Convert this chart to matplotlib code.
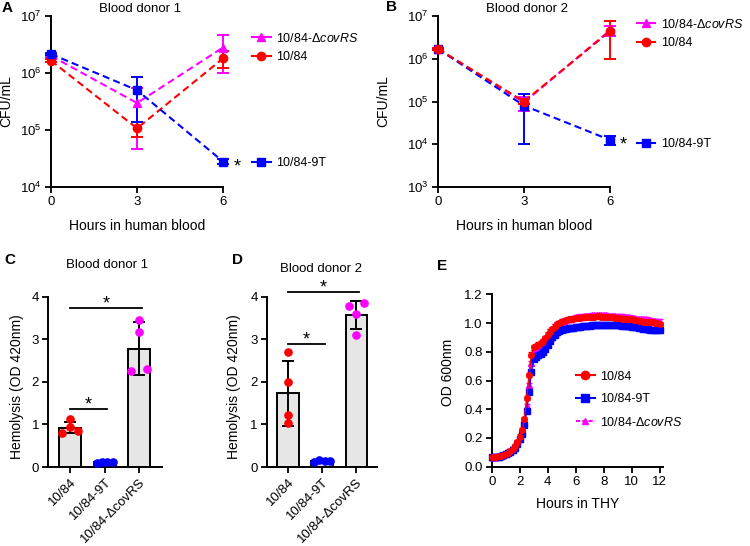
import numpy as np
import matplotlib
matplotlib.use('Agg')
import matplotlib.pyplot as plt
from matplotlib.lines import Line2D
from matplotlib.ticker import NullLocator, FormatStrFormatter

plt.rcParams['font.family'] = ['Liberation Sans', 'DejaVu Sans']
plt.rcParams['mathtext.fontset'] = 'custom'
plt.rcParams['mathtext.rm'] = 'Liberation Sans'
plt.rcParams['mathtext.it'] = 'Liberation Sans:italic'
plt.rcParams['mathtext.default'] = 'regular'
plt.rcParams['axes.linewidth'] = 1.4

RED = '#ff0000'
BLUE = '#0000ff'
MAG = '#ff00ff'

# ---------------- Data: panels A / B (CFU/mL, mean and SD) ----------------
hours_blood = [0, 3, 6]
A_covrs = [2.0e6, 2.97e5, 2.8e6]
A_covrs_sd = [1.0e5, 2.5e5, 1.8e6]
A_wt = [1.65e6, 1.07e5, 1.8e6]
A_wt_sd = [1.0e5, 3.1e4, 6.0e5]
A_9t = [2.15e6, 5.0e5, 2.8e4]
A_9t_sd = [1.0e5, 3.6e5, 3.0e3]

B_covrs = [1.7e6, 9.5e4, 4.65e6]
B_covrs_sd = [1.0e5, 3.5e4, 1.25e6]
B_wt = [1.7e6, 1.0e5, 4.4e6]
B_wt_sd = [1.0e5, 1.2e4, 3.4e6]
B_9t = [1.7e6, 8.0e4, 1.26e4]
B_9t_sd = [1.0e5, 7.0e4, 3.2e3]

# ---------------- Data: panels C / D (hemolysis) ----------------
strains = ['10/84', '10/84-9T', '10/84-ΔcovRS']
C_means = [0.92, 0.12, 2.78]
C_sd = [0.13, 0.01, 0.62]
C_points = [[1.12, 0.95, 0.79, 0.84], [0.10, 0.12, 0.11, 0.12], [3.46, 3.17, 2.25, 2.30]]
D_means = [1.73, 0.13, 3.57]
D_sd = [0.76, 0.03, 0.335]
D_points = [[2.70, 2.00, 1.23, 1.04], [0.11, 0.17, 0.13, 0.15], [3.77, 3.86, 3.59, 3.11]]
C_sig = [(0, 2, 3.74), (0, 1, 1.36)]
D_sig = [(0, 2, 4.10), (0, 1, 2.89)]

# ---------------- Data: panel E (growth in THY, OD600 every 10 min) ----------------
hours_thy = np.arange(73) / 6.0
E_wt = [0.065, 0.066, 0.068, 0.071, 0.075, 0.081,
        0.089, 0.098, 0.109, 0.122, 0.142, 0.170,
        0.210, 0.255, 0.330, 0.480, 0.640, 0.780,
        0.830, 0.840, 0.850, 0.860, 0.875, 0.895,
        0.920, 0.940, 0.960, 0.975, 0.990, 1.000,
        1.010, 1.015, 1.020, 1.025, 1.030, 1.030,
        1.035, 1.035, 1.035, 1.040, 1.040, 1.040,
        1.045, 1.045, 1.045, 1.050, 1.050, 1.045,
        1.045, 1.045, 1.040, 1.040, 1.040, 1.035,
        1.035, 1.035, 1.030, 1.030, 1.030, 1.025,
        1.025, 1.020, 1.020, 1.015, 1.015, 1.010,
        1.010, 1.010, 1.005, 1.005, 1.000, 1.000,
        0.995]
E_9t = [0.065, 0.066, 0.067, 0.070, 0.074, 0.079,
        0.086, 0.094, 0.104, 0.116, 0.133, 0.158,
        0.190, 0.230, 0.290, 0.390, 0.520, 0.660,
        0.750, 0.765, 0.775, 0.785, 0.800, 0.820,
        0.850, 0.875, 0.900, 0.920, 0.935, 0.945,
        0.950, 0.955, 0.960, 0.962, 0.965, 0.967,
        0.970, 0.972, 0.975, 0.977, 0.978, 0.980,
        0.982, 0.983, 0.985, 0.986, 0.987, 0.988,
        0.988, 0.988, 0.987, 0.987, 0.986, 0.985,
        0.984, 0.983, 0.982, 0.980, 0.978, 0.976,
        0.974, 0.972, 0.970, 0.967, 0.964, 0.961,
        0.958, 0.955, 0.953, 0.952, 0.951, 0.950,
        0.950]
E_covrs = [0.065, 0.066, 0.067, 0.070, 0.074, 0.080,
           0.087, 0.095, 0.106, 0.119, 0.137, 0.163,
           0.198, 0.240, 0.305, 0.420, 0.570, 0.720,
           0.800, 0.820, 0.835, 0.850, 0.870, 0.890,
           0.915, 0.940, 0.960, 0.975, 0.990, 1.000,
           1.010, 1.015, 1.020, 1.025, 1.030, 1.035,
           1.040, 1.040, 1.045, 1.045, 1.050, 1.050,
           1.050, 1.055, 1.055, 1.055, 1.055, 1.055,
           1.055, 1.055, 1.050, 1.050, 1.050, 1.050,
           1.045, 1.045, 1.045, 1.040, 1.040, 1.040,
           1.035, 1.035, 1.030, 1.030, 1.030, 1.025,
           1.025, 1.020, 1.020, 1.015, 1.015, 1.010,
           1.010]
E_err = 0.015

LBL_COVRS = '10/84-Δ$\\it{covRS}$'

W, H = 750, 546
fig = plt.figure(figsize=(7.5, 5.46), dpi=100)


def axes_px(left, top, right, bottom):
    return fig.add_axes([left / W, 1 - bottom / H, (right - left) / W, (bottom - top) / H])


def style_axes(ax):
    for s in ['top', 'right']:
        ax.spines[s].set_visible(False)
    ax.tick_params(direction='out', length=4, width=1.3, labelsize=9.5, pad=2.5)


# ---------------- Panels A and B ----------------
def line_panel(ax, series, ymin, title, title_x):
    for vals, sd, color, marker in series:
        cont = ax.errorbar(hours_blood, vals, yerr=sd, color=color, marker=marker, ms=6,
                           ls=(0, (3.4, 2.0)), lw=1.5, capsize=4, capthick=1.4, elinewidth=1.4,
                           zorder=3)
        for ch in cont.get_children():
            ch.set_clip_on(False)
        cont.lines[0].set_clip_on(False)
    ax.set_yscale('log')
    ax.set_ylim(ymin, 1e7)
    ax.set_xlim(0, 6)
    ax.set_xticks([0, 3, 6])
    ax.yaxis.set_minor_locator(NullLocator())
    style_axes(ax)
    ax.set_xlabel('Hours in human blood', fontsize=10)
    ax.set_ylabel('CFU/mL', fontsize=10)
    ax.xaxis.set_label_coords(0.5, -0.19)
    ax.text(title_x, 1.041, title, transform=ax.transAxes, ha='center', va='center', fontsize=9.5)


axA = axes_px(51, 16, 223, 187)
line_panel(axA, [(A_covrs, A_covrs_sd, MAG, '^'), (A_wt, A_wt_sd, RED, 'o'), (A_9t, A_9t_sd, BLUE, 's')],
           1e4, 'Blood donor 1', 0.517)
axA.yaxis.set_label_coords(-0.218, 0.5)

axB = axes_px(438, 16, 610, 187)
line_panel(axB, [(B_covrs, B_covrs_sd, MAG, '^'), (B_9t, B_9t_sd, BLUE, 's'), (B_wt, B_wt_sd, RED, 'o')],
           1e3, 'Blood donor 2', 0.52)
axB.yaxis.set_label_coords(-0.275, 0.5)


def h(color, marker, ls='-'):
    return Line2D([], [], color=color, marker=marker, ms=6, lw=1.5, ls=ls)


leg_kw = dict(frameon=False, fontsize=9, handlelength=1.5, handletextpad=0.45,
              borderaxespad=0, borderpad=0, labelspacing=0.5)
for ax, xa, ytop, ylow in [(axA, 1.169, 0.816, 0.140), (axB, 1.155, 0.899, 0.251)]:
    l1 = ax.legend([h(MAG, '^'), h(RED, 'o')], [LBL_COVRS, '10/84'], loc='center left',
                   bbox_to_anchor=(xa, ytop), **leg_kw)
    ax.add_artist(l1)
    ax.legend([h(BLUE, 's')], ['10/84-9T'], loc='center left', bbox_to_anchor=(xa, ylow), **leg_kw)

axA.text(1.081, 0.115, '*', transform=axA.transAxes, ha='center', va='center', fontsize=13)
axB.text(1.076, 0.245, '*', transform=axB.transAxes, ha='center', va='center', fontsize=13)


# ---------------- Panels C and D ----------------
def bar_panel(ax, means, sds, points, jitter, sig, title, tx, ty, xlim):
    x = np.arange(len(strains))
    colors = [RED, BLUE, MAG]
    ax.bar(x, means, width=0.63, color='#e6e6e6', edgecolor='black', linewidth=1.4, zorder=2)
    ax.errorbar(x, means, yerr=sds, fmt='none', ecolor='black', elinewidth=1.4, capsize=4,
                capthick=1.4, zorder=3)
    for i, pts in enumerate(points):
        ax.plot([x[i] + o for o in jitter[i]], pts, 'o', color=colors[i], ms=5.2, zorder=4, clip_on=False)
    for a, b, yv in sig:
        ax.plot([x[a], x[b] + 0.07], [yv, yv], color='black', lw=1.3, clip_on=False)
        ax.text((x[a] + x[b] + 0.07) / 2, yv + 0.1, '*', ha='center', va='center', fontsize=13)
    ax.set_ylim(0, 4)
    ax.set_yticks([0, 1, 2, 3, 4])
    ax.set_xlim(*xlim)
    ax.set_xticks(x)
    ax.set_xticklabels(strains, rotation=45, ha='right', rotation_mode='anchor')
    style_axes(ax)
    ax.set_ylabel('Hemolysis (OD 420nm)', fontsize=10)
    ax.text(tx, ty, title, transform=ax.transAxes, ha='center', va='center', fontsize=9.5)


flat = [-0.23, -0.08, 0.08, 0.23]
C_jitter = [[0, 0, -0.23, 0.23], flat, [0, 0, -0.23, 0.23]]
D_jitter = [[0, 0, 0, 0], flat, [-0.23, 0.23, 0, 0]]

axC = axes_px(48, 296.7, 161.7, 467)
bar_panel(axC, C_means, C_sd, C_points, C_jitter, C_sig, 'Blood donor 1', 0.516, 1.186, (-0.64, 2.65))
axC.yaxis.set_label_coords(-0.211, 0.47)

axD = axes_px(266.7, 296.7, 376.7, 467)
bar_panel(axD, D_means, D_sd, D_points, D_jitter, D_sig, 'Blood donor 2', 0.49, 1.16, (-0.62, 2.59))
axD.yaxis.set_label_coords(-0.234, 0.47)

# ---------------- Panel E ----------------
axE = axes_px(491.7, 294.3, 663.3, 466.7)
for vals, color, marker in [(E_covrs, MAG, '^'), (E_9t, BLUE, 's'), (E_wt, RED, 'o')]:
    cont = axE.errorbar(hours_thy, vals, yerr=E_err, color=color, marker=marker, ms=4, lw=1.0,
                        elinewidth=1.0, capsize=2, capthick=1.0, zorder=3)
    for ch in cont.get_children():
        ch.set_clip_on(False)
axE.set_xlim(0, 12.26)
axE.set_ylim(0, 1.2)
axE.set_xticks(range(0, 13, 2))
axE.set_yticks([0, 0.2, 0.4, 0.6, 0.8, 1.0, 1.2])
axE.yaxis.set_major_formatter(FormatStrFormatter('%.1f'))
style_axes(axE)
axE.set_xlabel('Hours in THY', fontsize=10)
axE.xaxis.set_label_coords(0.5, -0.176)
axE.set_ylabel('OD 600nm', fontsize=10)
axE.yaxis.set_label_coords(-0.214, 0.55)
axE.legend([h(RED, 'o'), h(BLUE, 's'), Line2D([], [], color=MAG, marker='^', ms=5, lw=1.5, ls=(0, (2, 1)))],
           ['10/84', '10/84-9T', LBL_COVRS], loc='center left', bbox_to_anchor=(0.491, 0.389),
           frameon=False, fontsize=9, handlelength=1.5, handletextpad=0.45, borderaxespad=0,
           borderpad=0, labelspacing=0.85)

# ---------------- Panel letters ----------------
for letter, px, py in [('A', 7, 7.5), ('B', 392, 7), ('C', 10, 260), ('D', 237.5, 260), ('E', 442.5, 266.5)]:
    fig.text(px / W, 1 - py / H, letter, ha='center', va='center', fontsize=11, fontweight='bold')

fig.savefig('out.png', dpi=100)
